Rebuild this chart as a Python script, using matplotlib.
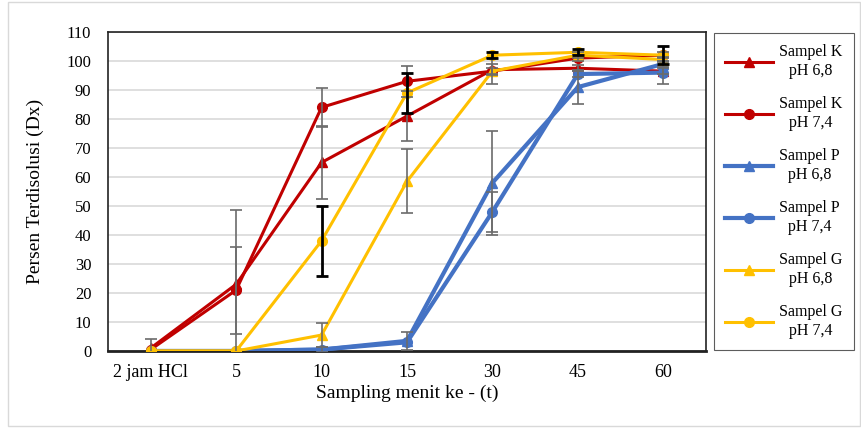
import matplotlib.pyplot as plt
import numpy as np

plt.rcParams["font.family"] = ["Liberation Serif", "DejaVu Serif"]

categories = ["2 jam HCl", "5", "10", "15", "30", "45", "60"]

k_68 = [1, 23, 65, 81, 97, 97.5, 96.5]
k_74 = [0.5, 21, 84, 93, 96.5, 101, 102]
p_68 = [0, 0, 0.5, 3.5, 58, 91, 99]
p_74 = [0, 0, 0.5, 3, 48, 95.5, 96]
g_68 = [0, 0, 5.5, 58.5, 96.5, 102, 100.5]
g_74 = [0, 0, 38, 89, 102, 103, 102]

k_68_err = [3, 25.5, 12.6, 8.5, 2, 1, 1]
k_74_err = [0, 15, 6.7, 5.3, 1, 1, 1]
p_68_err = [0, 0, 1, 3, 18, 6, 1]
p_74_err = [0, 0, 0, 0, 7, 1, 4]
g_68_err = [0, 0, 4, 11, 4.5, 1, 1]
g_74_err = [0, 0, 12, 7, 1, 1, 3]

labels = ["Sampel K\npH 6,8", "Sampel K\npH 7,4", "Sampel P\npH 6,8",
          "Sampel P\npH 7,4", "Sampel G\npH 6,8", "Sampel G\npH 7,4"]

red, blue, yellow = "#C00000", "#4472C4", "#FFC000"
series = [
    (k_68, k_68_err, red, "^", "#6b6b6b"),
    (k_74, k_74_err, red, "o", "#6b6b6b"),
    (p_68, p_68_err, blue, "^", "#6b6b6b"),
    (p_74, p_74_err, blue, "o", "#6b6b6b"),
    (g_68, g_68_err, yellow, "^", "#6b6b6b"),
    (g_74, g_74_err, yellow, "o", "black"),
]

fig = plt.figure(figsize=(8.61, 4.30), dpi=100)
ax = fig.add_axes([0.1254, 0.1837, 0.6946, 0.7419])

x = np.arange(len(categories))
handles = []
for (vals, err, col, mk, ecol), lab in zip(series, labels):
    lw = 3.0 if col == blue else 2.2
    h, = ax.plot(x, vals, color=col, marker=mk, markersize=7 if mk == "o" else 6.5,
                 linewidth=lw, label=lab, zorder=3)
    handles.append(h)
    err = np.array(err, dtype=float)
    m = err > 0
    ax.errorbar(x[m], np.array(vals)[m], yerr=err[m], fmt="none", ecolor=ecol,
                elinewidth=2.0 if ecol == "black" else 1.2, capsize=4,
                capthick=2.0 if ecol == "black" else 1.2, zorder=4)

ax.set_xlim(-0.5, len(categories) - 0.5)
ax.set_ylim(0, 110)
ax.set_yticks(np.arange(0, 111, 10))
ax.set_xticks(x)
ax.set_xticklabels(categories)
ax.tick_params(axis="y", length=0, labelsize=12, pad=12)
ax.tick_params(axis="x", length=0, labelsize=13, pad=9)
ax.yaxis.grid(True, color="#D9D9D9", linewidth=1.2)
ax.set_axisbelow(True)
for s in ax.spines.values():
    s.set_color("#222222")
    s.set_linewidth(1.2)
ax.spines["bottom"].set_linewidth(2.0)

ax.set_ylabel("Persen Terdisolusi (Dx)", fontsize=14, labelpad=16)
ax.set_xlabel("Sampling menit ke - (t)", fontsize=14, labelpad=3)

leg = fig.legend(handles=handles, loc="upper left",
                 bbox_to_anchor=(0.829, 0.923), fontsize=11.5,
                 frameon=True, fancybox=False, edgecolor="#333333",
                 handlelength=3.0, handletextpad=0.4, labelspacing=1.1,
                 borderpad=0.7, borderaxespad=0)
leg.get_frame().set_linewidth(0.8)
for t in leg.get_texts():
    t.set_multialignment("center")

fig.patches.append(plt.Rectangle((0.009, 0.01), 0.99, 0.985, transform=fig.transFigure,
                                 fill=False, edgecolor="#D9D9D9", linewidth=1))

fig.savefig("out.png", dpi=100)
